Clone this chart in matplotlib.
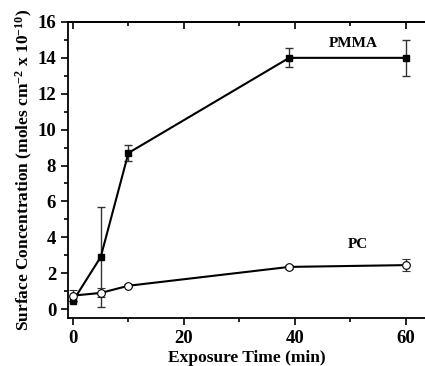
import matplotlib
matplotlib.use("Agg")
import matplotlib.pyplot as plt
from matplotlib.ticker import MultipleLocator, NullFormatter

plt.rcParams['font.family'] = 'Liberation Serif'
plt.rcParams['font.weight'] = 'bold'
plt.rcParams['mathtext.fontset'] = 'custom'
plt.rcParams['mathtext.rm'] = 'Liberation Serif:bold'
plt.rcParams['mathtext.default'] = 'rm'

# exposure time (min)
time = [0, 5, 10, 39, 60]

pmma = [0.45, 2.9, 8.7, 14.0, 14.0]
pmma_lo = [0.0, 2.8, 0.45, 0.5, 1.0]
pmma_hi = [0.0, 2.8, 0.45, 0.55, 1.0]

pc = [0.75, 0.9, 1.3, 2.35, 2.45]
pc_err = [0.3, 0.25, 0.08, 0.1, 0.35]

fig = plt.figure(figsize=(4.25, 3.66), dpi=100)
ax = fig.add_axes([0.16, 0.131, 0.84, 0.809])

ax.errorbar(time, pmma, yerr=[pmma_lo, pmma_hi], color='black', lw=1.5,
            marker='s', ms=5, mfc='black', mec='black',
            ecolor='#333333', elinewidth=1, capsize=3, capthick=1)
ax.errorbar(time, pc, yerr=pc_err, color='black', lw=1.5,
            marker='o', ms=5.5, mfc='white', mec='black', mew=0.8,
            ecolor='#333333', elinewidth=1, capsize=3, capthick=1)

ax.text(50.5, 14.8, 'PMMA', fontsize=11, fontweight='bold', ha='center', va='center')
ax.text(51.4, 3.6, 'PC', fontsize=11, fontweight='bold', ha='center', va='center')

ax.set_xlim(-0.9, 63.5)
ax.set_ylim(-0.5, 16)
ax.xaxis.set_major_locator(MultipleLocator(20))
ax.xaxis.set_minor_locator(MultipleLocator(10))
ax.yaxis.set_major_locator(MultipleLocator(2))
ax.yaxis.set_minor_locator(MultipleLocator(1))
ax.tick_params(which='both', direction='out', right=False, labelsize=13.5, width=1.2)
ax.tick_params(which='major', length=5)
ax.tick_params(which='minor', length=3)
for lab in ax.get_xticklabels() + ax.get_yticklabels():
    lab.set_fontweight('bold')
for s in ax.spines.values():
    s.set_linewidth(1.3)
ax.spines['right'].set_visible(False)

# top axis: inward ticks, no labels
top = ax.secondary_xaxis('top')
top.xaxis.set_major_locator(MultipleLocator(20))
top.xaxis.set_minor_locator(MultipleLocator(10))
top.xaxis.set_major_formatter(NullFormatter())
top.tick_params(which='both', direction='in', width=1.2)
top.tick_params(which='major', length=5)
top.tick_params(which='minor', length=3)
top.spines['top'].set_linewidth(1.3)

ax.set_xlabel('Exposure Time (min)', fontsize=12.5, fontweight='bold', labelpad=2)
ax.set_ylabel('Surface Concentration (moles cm$^{-2}$ x 10$^{-10}$)',
              fontsize=12.5, fontweight='bold', labelpad=2)

fig.savefig('out.png', dpi=100)
